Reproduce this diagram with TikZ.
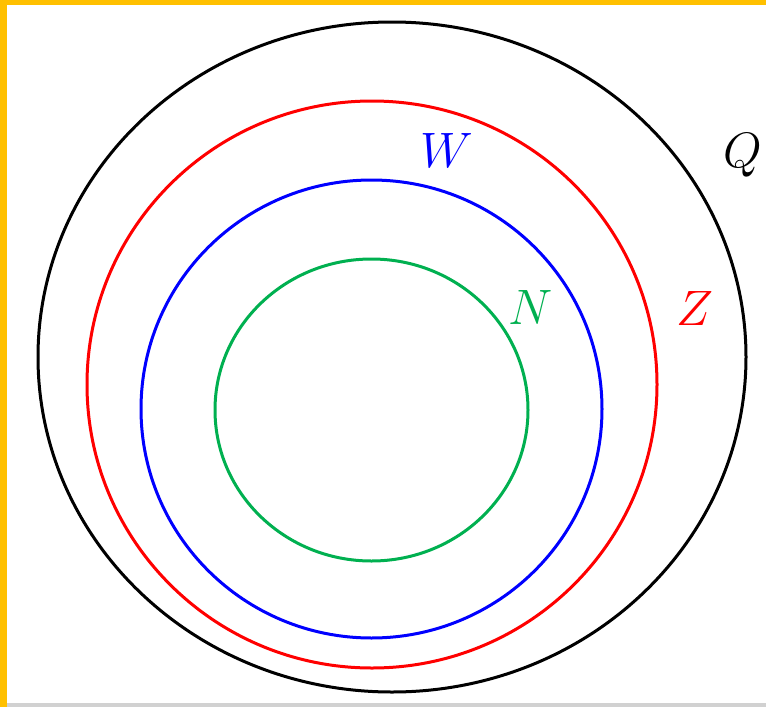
\documentclass[tikz,border=0pt]{standalone}
\usepackage{xcolor}
\usetikzlibrary{positioning}
\definecolor{framey}{HTML}{FFC000}
\definecolor{setgreen}{HTML}{00B050}

\begin{document}
\begin{tikzpicture}[x=0.5pt, y=-0.5pt,
    every node/.style={font=\fontsize{35}{40}\selectfont, inner sep=0pt},
    setline/.style={line width=1.5pt}]
  \useasboundingbox (0,0) rectangle (766,707);
  % ---------- FRAME ----------
  \fill[white] (0,0) rectangle (766,707);
  \fill[framey] (0,0) rectangle (766,5);
  \fill[framey] (0,0) rectangle (7,707);
  \fill[black!18] (7,703) rectangle (766,707);
  % ---------- SETS ----------
  \draw[setline, black] (392,357) ellipse (354 and 335);
  \draw[setline, red] (372,384.5) ellipse (285 and 283.5);
  \draw[setline, blue] (371.5,409) ellipse (230.5 and 229);
  \draw[setline, setgreen] (371.5,410) ellipse (156.5 and 151);
  % ---------- LABELS ----------
  \node[black] (lQ) at (743,155) {$Q$};
  \node[red] (lZ) at (695,308) {$Z$};
  \node[blue] (lW) at (447,150) {$W$};
  \node[setgreen] (lN) at (531,307) {$N$};
\end{tikzpicture}
\end{document}
